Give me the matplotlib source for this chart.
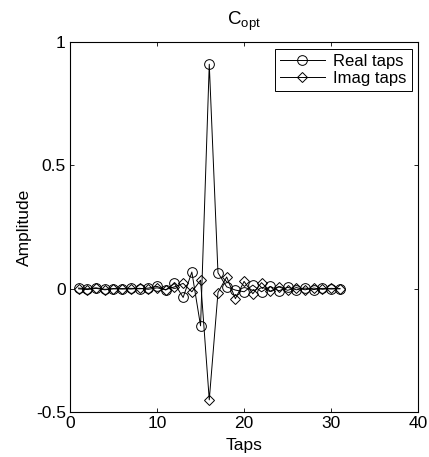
import matplotlib
matplotlib.use('Agg')
import matplotlib.pyplot as plt
import numpy as np

plt.rcParams['font.family'] = ['Liberation Sans', 'DejaVu Sans']
plt.rcParams['font.size'] = 12.5
plt.rcParams['mathtext.fontset'] = 'custom'
plt.rcParams['mathtext.rm'] = 'Liberation Sans'

# tap values
taps = np.arange(1, 32)
real_taps = [0.003, 0.0, 0.004, -0.002, 0.001, -0.001, 0.002, 0.0, 0.003, 0.01,
             -0.005, 0.022, -0.035, 0.068, -0.15, 0.91, 0.065, 0.008, -0.005, -0.012,
             0.015, -0.012, 0.01, -0.008, 0.006, -0.004, 0.003, -0.003, 0.002, -0.001, 0.001]
imag_taps = [0.0, -0.003, 0.002, -0.004, 0.0, 0.001, -0.001, 0.002, -0.002, 0.004,
             -0.003, 0.008, 0.022, -0.012, 0.035, -0.45, -0.015, 0.048, -0.04, 0.03,
             -0.02, 0.025, -0.01, 0.008, -0.006, 0.005, -0.004, 0.003, -0.002, 0.002, 0.0]

fig = plt.figure(figsize=(4.29, 4.57), dpi=100)
ax = fig.add_axes([0.163, 0.098, 0.812, 0.81])

ax.plot(taps, real_taps, color='black', lw=0.7, marker='o', ms=7,
        mfc='none', mec='black', mew=0.7, label='Real taps')
ax.plot(taps, imag_taps, color='black', lw=0.7, marker='D', ms=5,
        mfc='none', mec='black', mew=0.7, label='Imag taps')

ax.set_xlim(0, 40)
ax.set_ylim(-0.5, 1)
ax.set_xticks([0, 10, 20, 30, 40])
ax.set_yticks([-0.5, 0, 0.5, 1])
ax.set_yticklabels(['-0.5', '0', '0.5', '1'])
ax.tick_params(direction='in', top=True, right=True, length=3, width=0.6, pad=3)
for s in ax.spines.values():
    s.set_linewidth(0.8)

ax.set_xlabel('Taps', labelpad=5)
ax.set_ylabel('Amplitude', labelpad=3)
ax.set_title(r'$\mathregular{C_{opt}}$', fontsize=13.5, pad=12)

leg = ax.legend(loc='upper right', fancybox=False, edgecolor='black',
                framealpha=1, borderaxespad=0.4, handlelength=2.7,
                handletextpad=0.5, fontsize=12, borderpad=0.3,
                labelspacing=0.15)
leg.get_frame().set_linewidth(0.7)

fig.savefig('out.png', dpi=100)
